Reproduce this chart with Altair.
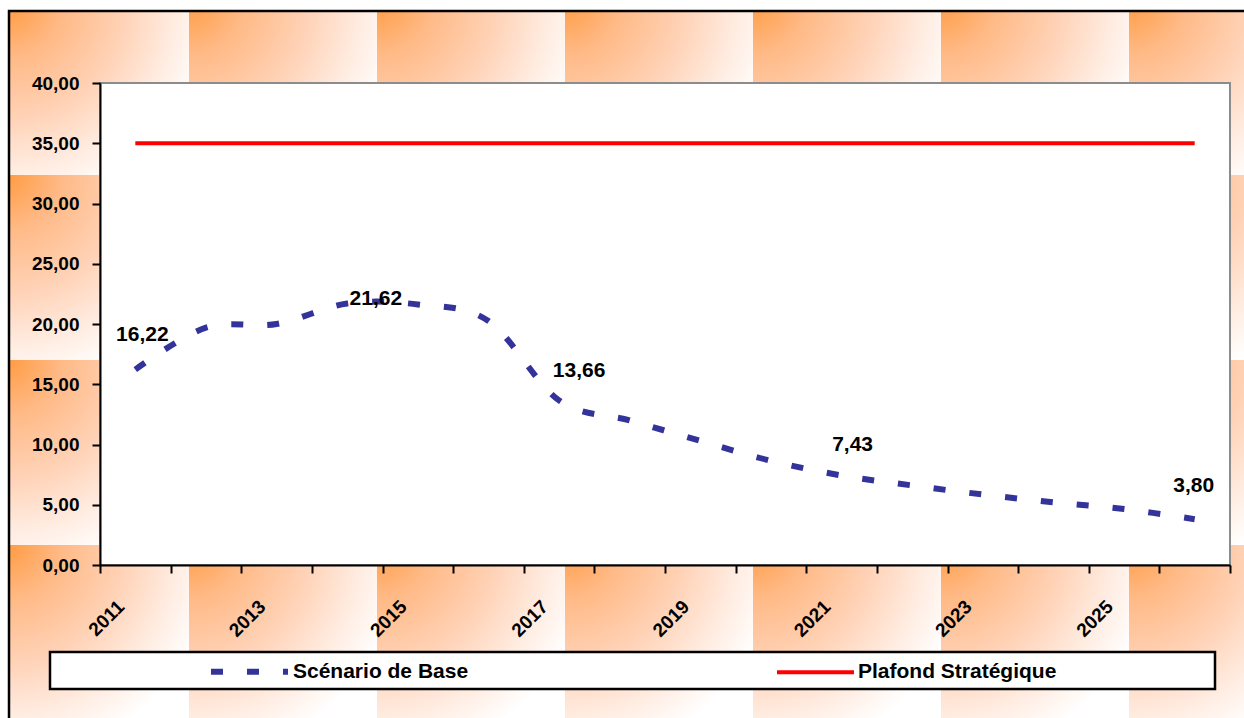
import altair as alt
import pandas as pd

# ---- data -------------------------------------------------------------
YEARS = [2011, 2012, 2013, 2014, 2015, 2016, 2017, 2018,
         2019, 2020, 2021, 2022, 2023, 2024, 2025, 2026]
BASE = [16.22, 19.70, 20.00, 21.70, 21.62, 20.25, 13.66, 12.00,
        10.30, 8.65, 7.43, 6.60, 5.85, 5.20, 4.65, 3.80]
PLAFOND = [35.0, 35.0, 35.0, 35.0, 35.0, 35.0, 35.0, 35.0,
           35.0, 35.0, 35.0, 35.0, 35.0, 35.0, 35.0, 35.0]
SERIES = ["Scénario de Base", "Plafond Stratégique"]
LABEL_YEARS = [2011, 2015, 2017, 2021, 2026]
Y_TICKS = [0, 5, 10, 15, 20, 25, 30, 35, 40]

# ---- layout -----------------------------------------------------------
CANVAS_W, CANVAS_H = 1244, 718
PAD_L, PAD_T, PAD_R = 100, 83, 14
W, H = CANVAS_W - PAD_L - PAD_R, 482
PAD_B = CANVAS_H - PAD_T - H
FRAME_X, FRAME_Y = 9, 11
TILE_W, TILE_H = 188, 185

FONT = "'Liberation Sans', Arial, sans-serif"
BLUE, RED = "#333399", "#FF0000"

lines = pd.DataFrame(
    [{"year": y, "value": v, "series": SERIES[0]} for y, v in zip(YEARS, BASE)]
    + [{"year": y, "value": v, "series": SERIES[1]} for y, v in zip(YEARS, PLAFOND)]
)
labels = pd.DataFrame(
    [{"year": y, "value": v} for y, v in zip(YEARS, BASE) if y in LABEL_YEARS]
)

# ---- decorative tiled backdrop (pixel positions relative to the plot) -
tiles = []
for c in range(7):
    for r in range(4):
        x0 = 1 + c * TILE_W
        y0 = -10 + r * TILE_H
        tiles.append({
            "x0": max(x0, FRAME_X + 1) - PAD_L,
            "x1": x0 + TILE_W - PAD_L,
            "y0": max(y0, FRAME_Y + 1) - PAD_T,
            "y1": y0 + TILE_H - PAD_T,
        })

tile_fill = {
    "gradient": "radial",
    "x1": 0, "y1": 0, "r1": 0,
    "x2": 0, "y2": 0, "r2": 1.15,
    "stops": [
        {"offset": 0.0, "color": "#FF9B42"},
        {"offset": 0.25, "color": "#FFB985"},
        {"offset": 0.55, "color": "#FFD2B6"},
        {"offset": 0.8, "color": "#FFECE1"},
        {"offset": 1.0, "color": "#FFFFFF"},
    ],
}

backdrop = alt.Chart(pd.DataFrame(tiles)).mark_rect(fill=tile_fill).encode(
    x=alt.X("x0:Q", scale=None),
    x2="x1:Q",
    y=alt.Y("y0:Q", scale=None),
    y2="y1:Q",
)

one = alt.Data(values=[{}])

frame = alt.Chart(one).mark_rect(
    fillOpacity=0, stroke="black", strokeWidth=2.5
).encode(
    x=alt.value(FRAME_X - PAD_L), x2=alt.value(CANVAS_W - PAD_L + 20),
    y=alt.value(FRAME_Y - PAD_T), y2=alt.value(CANVAS_H - PAD_T + 20),
)

plot_bg = alt.Chart(one).mark_rect(
    fill="white", stroke="#8C8C8C", strokeWidth=2
).encode(
    x=alt.value(0), x2=alt.value(W), y=alt.value(0), y2=alt.value(H),
)

legend_box = alt.Chart(one).mark_rect(
    fill="white", stroke="black", strokeWidth=2.5
).encode(
    x=alt.value(50 - PAD_L), x2=alt.value(1215 - PAD_L),
    y=alt.value(652 - PAD_T), y2=alt.value(689 - PAD_T),
)

# ---- axes -------------------------------------------------------------
axis_common = dict(
    title=None,
    labelFont=FONT,
    labelFontWeight="bold",
    labelColor="black",
    domainColor="black",
    domainWidth=2,
    tickColor="black",
    tickWidth=2,
    tickSize=8,
    grid=False,
    zindex=2,
)
x_axis = alt.Axis(
    labelAngle=-45,
    labelFontSize=19,
    labelPadding=24,
    labelOffset=-21,
    labelOverlap=False,
    labelExpr="datum.value % 2 == 1 ? datum.label : ''",
    tickBand="extent",
    **axis_common,
)
y_axis = alt.Axis(
    values=Y_TICKS,
    labelFontSize=19,
    labelPadding=13,
    labelExpr="replace(format(datum.value, '.2f'), '.', ',')",
    **axis_common,
)
x_scale = alt.Scale(type="band", domain=YEARS, paddingInner=0, paddingOuter=0)
y_scale = alt.Scale(domain=[0, 40], nice=False)

leg = dict(
    title=None,
    orient="none",
    legendX=208 - PAD_L,
    legendY=547,
    direction="horizontal",
    symbolType="stroke",
    symbolSize=77 * 77,
    labelFont=FONT,
    labelFontSize=21,
    labelFontWeight="bold",
    labelColor="black",
    labelOffset=2,
    labelLimit=400,
    columnPadding=300,
    padding=0,
    zindex=3,
)

series_lines = alt.Chart(lines).mark_line(interpolate="cardinal").encode(
    x=alt.X("year:O", bandPosition=0.5, scale=x_scale, axis=x_axis),
    y=alt.Y("value:Q", scale=y_scale, axis=y_axis),
    color=alt.Color("series:N", scale=alt.Scale(domain=SERIES, range=[BLUE, RED]),
                    legend=alt.Legend(**leg)),
    strokeDash=alt.StrokeDash("series:N", scale=alt.Scale(domain=SERIES, range=[[12, 24], [1, 0]]),
                              legend=alt.Legend(**leg)),
    strokeWidth=alt.StrokeWidth("series:N", scale=alt.Scale(domain=SERIES, range=[6, 4]),
                                legend=alt.Legend(**leg)),
    detail="series:N",
)

# value labels, each with its own placement next to its point
OFFSETS = {2011: (7, -35), 2015: (-42, -5), 2017: (20, -29), 2021: (11, -30), 2026: (-1, -33)}
label_layers = []
for yr, (ddx, ddy) in OFFSETS.items():
    label_layers.append(
        alt.Chart(labels)
        .transform_filter(alt.datum.year == yr)
        .transform_calculate(txt="replace(format(datum.value, '.2f'), '.', ',')")
        .mark_text(font=FONT, fontSize=21, fontWeight="bold", color="black",
                   align="center", baseline="middle", dx=ddx, dy=ddy)
        .encode(
            x=alt.X("year:O", bandPosition=0.5, scale=x_scale, axis=x_axis),
            y=alt.Y("value:Q", scale=y_scale, axis=y_axis),
            text="txt:N",
        )
    )

chart = alt.layer(
    backdrop, frame, plot_bg, legend_box, series_lines, *label_layers
).properties(
    width=W,
    height=H,
    padding={"left": PAD_L, "top": PAD_T, "right": PAD_R, "bottom": PAD_B},
    autosize=alt.AutoSizeParams(type="none"),
    background="white",
).configure_view(
    strokeWidth=0
)

chart.save("out.html", embed_options={"renderer": "svg", "actions": False})
